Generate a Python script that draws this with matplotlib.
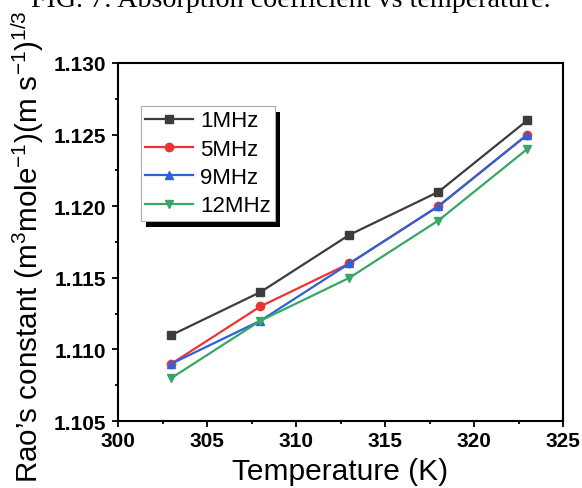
import matplotlib
matplotlib.use("Agg")
import matplotlib.pyplot as plt
from matplotlib.patches import Rectangle
from matplotlib.ticker import MultipleLocator, AutoMinorLocator, FormatStrFormatter

# data
temperature = [303, 308, 313, 318, 323]
rao_1mhz = [1.111, 1.114, 1.118, 1.121, 1.126]
rao_5mhz = [1.109, 1.113, 1.116, 1.120, 1.125]
rao_9mhz = [1.109, 1.112, 1.116, 1.120, 1.125]
rao_12mhz = [1.108, 1.112, 1.115, 1.119, 1.124]
labels = ["1MHz", "5MHz", "9MHz", "12MHz"]

plt.rcParams['font.family'] = ['Liberation Sans', 'DejaVu Sans']
plt.rcParams['mathtext.fontset'] = 'custom'
plt.rcParams['mathtext.rm'] = 'Liberation Sans'
plt.rcParams['mathtext.it'] = 'Liberation Sans'

fig = plt.figure(figsize=(5.82, 4.89), dpi=100)
W, H = 582, 489
ax = fig.add_axes([118 / W, 1 - 422 / H, (563 - 118) / W, (422 - 64) / H])

series = [rao_1mhz, rao_5mhz, rao_9mhz, rao_12mhz]
colors = ['#3c3c3c', '#ee3333', '#2b63d6', '#38a665']
markers = ['s', 'o', '^', 'v']
for vals, c, m, lab in zip(series, colors, markers, labels):
    ax.plot(temperature, vals, color=c, marker=m, markersize=6, lw=1.6, label=lab)

ax.set_xlim(300, 325)
ax.set_ylim(1.105, 1.130)
ax.xaxis.set_major_locator(MultipleLocator(5))
ax.yaxis.set_major_locator(MultipleLocator(0.005))
ax.xaxis.set_minor_locator(AutoMinorLocator(2))
ax.yaxis.set_minor_locator(AutoMinorLocator(2))
ax.yaxis.set_major_formatter(FormatStrFormatter('%.3f'))
ax.tick_params(which='both', direction='out', width=1.3, top=False, right=False)
ax.tick_params(which='major', length=4, labelsize=15)
ax.tick_params(which='minor', length=2.5)
ax.tick_params(axis='x', which='major', pad=3)
ax.tick_params(axis='y', which='major', pad=4.5)
for t in ax.get_xticklabels() + ax.get_yticklabels():
    t.set_fontweight('bold')
for s in ax.spines.values():
    s.set_linewidth(1.5)

ax.set_xlabel("Temperature (K)", fontsize=21.5, va='baseline')
ax.xaxis.set_label_coords(0.5, (422 - 480) / 358)
ax.set_ylabel(r"Rao’s constant (m$^3$mole$^{-1}$)(m s$^{-1}$)$^{1/3}$",
              fontsize=21.3, ha='left', va='baseline', rotation_mode='anchor')
ax.yaxis.set_label_coords((38 - 118) / 445, (422 - 483) / 358)

leg = ax.legend(loc='upper left', bbox_to_anchor=(0.0517, 0.880), fontsize=16,
                frameon=True, fancybox=False, edgecolor='#aaaaaa',
                facecolor='white', framealpha=1,
                handlelength=2.15, handletextpad=0.3, labelspacing=0.33,
                borderpad=0.2, borderaxespad=0)
leg.get_frame().set_linewidth(0.8)
leg.set_zorder(5)

# black offset shadow like the original
fig.canvas.draw()
bb = leg.get_window_extent()
shadow = Rectangle((bb.x0 + 5, bb.y0 - 6), bb.width, bb.height,
                   transform=None, facecolor='black', edgecolor='none', zorder=4)
ax.add_artist(shadow)

# clipped caption from the page above the figure
fig.text(0.5, 1 - 7 / H, "FIG. 7: Absorption coefficient vs temperature.",
         family='Liberation Serif', fontsize=20.2, ha='center', va='baseline')

fig.savefig("out.png", dpi=100)
